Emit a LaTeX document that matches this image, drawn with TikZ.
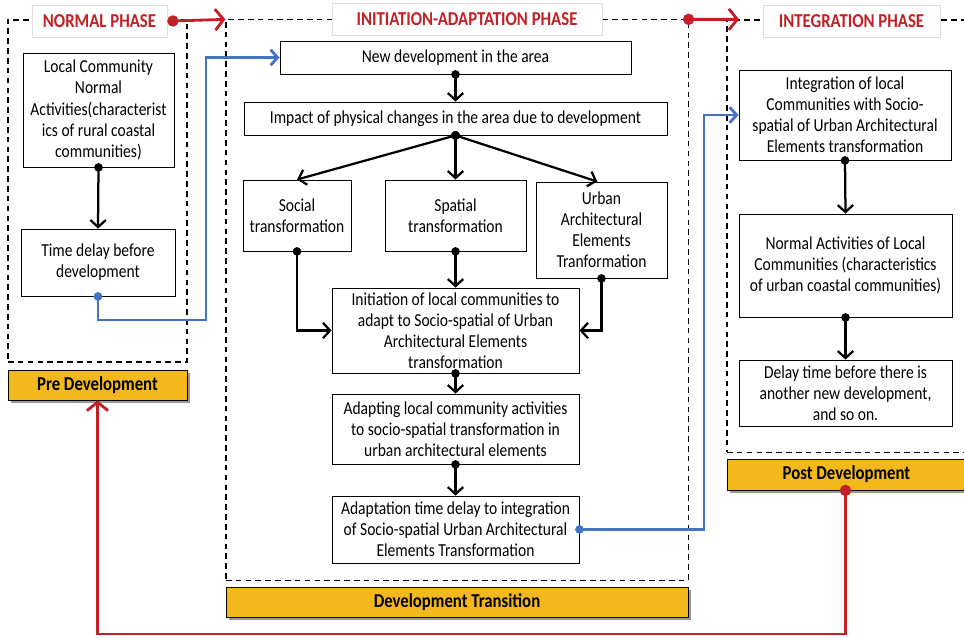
\documentclass[tikz,border=0pt]{standalone}
\usepackage{fontspec}
\setmainfont{Carlito}[FakeStretch=0.85]
\usetikzlibrary{arrows.meta,positioning,shadows}
\definecolor{phasered}{RGB}{192,32,38}
\definecolor{linkblue}{RGB}{68,114,196}
\definecolor{baryellow}{RGB}{242,184,28}
\tikzset{
  stagebox/.style={
    draw=black,
    fill=white,
    line width=0.6pt,
    align=center,
    inner sep=2pt,
    font=\fontsize{13}{15}\selectfont
  },
  phaseframe/.style={
    draw=black,
    line width=0.8pt,
    dash pattern=on 4pt off 3pt
  },
  phasehead/.style={
    draw=gray!25,
    fill=white,
    text=phasered,
    minimum height=0.8cm,
    font=\fontsize{14}{16}\selectfont\bfseries,
    drop shadow={shadow xshift=1pt, shadow yshift=-1pt, fill=gray!25, opacity=1}
  },
  periodbar/.style={
    draw=black,
    fill=baryellow,
    line width=0.6pt,
    font=\fontsize{14}{16}\selectfont\bfseries,
    drop shadow={shadow xshift=2pt, shadow yshift=-2pt, fill=gray!80, opacity=1}
  },
  flowarrow/.style={
    {Circle[length=6pt]}-{Straight Barb[length=5pt,width=11pt]},
    shorten <=-3pt,
    line width=1.6pt
  },
  linkarrow/.style={
    {Circle[length=6pt]}-{Straight Barb[length=5pt,width=11pt]},
    shorten <=-3pt,
    draw=linkblue,
    line width=2pt
  },
  phasearrow/.style={
    {Circle[length=8pt]}-{Straight Barb[length=6pt,width=15pt]},
    shorten <=-4pt,
    draw=phasered,
    line width=2pt
  }
}

\begin{document}
\begin{tikzpicture}[x=0.025cm, y=-0.025cm]
  \clip (0,0) rectangle (964,637);
  \fill[white] (0,0) rectangle (964,637);

  % phase frames
  \node[phaseframe, minimum width=4.475cm, minimum height=8.55cm] (leftframe) at (97.5,191) {};
  \node[phaseframe, minimum width=11.55cm, minimum height=14cm] (midframe) at (457,300) {};
  \node[phaseframe, minimum width=6.575cm, minimum height=10.8cm] (rightframe) at (858.5,236) {};

  \node[phasehead, minimum width=3.375cm] (normhead) at (99.5,21) {NORMAL PHASE};
  \node[phasehead, minimum width=6.75cm] (inithead) at (467,19) {INITIATION-ADAPTATION PHASE};
  \node[phasehead, minimum width=4.425cm] (integhead) at (851.5,21) {INTEGRATION PHASE};

  \node[periodbar, minimum width=4.475cm, minimum height=0.75cm] (prebar) at (97.5,385) {Pre Development};
  \node[periodbar, minimum width=11.55cm, minimum height=0.75cm] (transbar) at (457,602) {Development Transition};
  \node[periodbar, minimum width=6.575cm, minimum height=0.775cm] (postbar) at (858.5,474.5) {\hspace*{-0.6cm}Post Development};

  % normal phase
  \node[stagebox, minimum width=3.775cm, minimum height=2.85cm] (normact) at (98.5,110)
    {Local Community\\Normal\\Activities(characterist\\ics of rural coastal\\communities)};
  \node[stagebox, minimum width=3.85cm, minimum height=1.675cm] (timedelay) at (98,262.5)
    {Time delay before\\development};

  % initiation-adaptation phase
  \node[stagebox, minimum width=8.775cm, minimum height=0.825cm] (newdev) at (455.5,57.5)
    {New development in the area};
  \node[stagebox, minimum width=10.575cm, minimum height=0.825cm] (impact) at (455.5,118.5)
    {Impact of physical changes in the area due to development};
  \node[stagebox, minimum width=2.7cm, minimum height=1.775cm] (social) at (297,215.5)
    {Social\\transformation};
  \node[stagebox, minimum width=3.525cm, minimum height=1.775cm] (spatial) at (455.5,215.5)
    {Spatial\\transformation};
  \node[stagebox, minimum width=3.275cm, minimum height=2.4cm] (urban) at (601.5,230)
    {Urban\\Architectural\\Elements\\Tranformation};
  \node[stagebox, minimum width=6.175cm, minimum height=2.125cm] (initiation) at (455.5,330.5)
    {Initiation of local communities to\\adapt to Socio-spatial of Urban\\Architectural Elements\\transformation};
  \node[stagebox, minimum width=6.175cm, minimum height=1.75cm] (adapting) at (455.5,429)
    {Adapting local community activities\\to socio-spatial transformation in\\urban architectural elements};
  \node[stagebox, minimum width=6.175cm, minimum height=1.675cm] (adaptdelay) at (455.5,529.5)
    {Adaptation time delay to integration\\of Socio-spatial Urban Architectural\\Elements Transformation};

  % integration phase
  \node[stagebox, minimum width=5.3cm, minimum height=2.25cm] (integ) at (845,115)
    {Integration of local\\Communities with Socio-\\spatial of Urban Architectural\\Elements transformation};
  \node[stagebox, minimum width=5.325cm, minimum height=2.575cm] (urbanact) at (845.5,265.5)
    {Normal Activities of Local\\Communities (characteristics\\of urban coastal communities)};
  \node[stagebox, minimum width=5.325cm, minimum height=1.65cm] (delay) at (845.5,393)
    {Delay time before there is\\another new development,\\and so on.};

  \coordinate (bendL) at (206,320);
  \coordinate (bendR) at (704,300);
  \coordinate (loopturn) at (470,634);

  % flow
  \draw[flowarrow] (normact.south) -- (timedelay.north);
  \draw[flowarrow] (newdev.south) -- (impact.north);
  \draw[flowarrow] (impact.south) -- (social.north);
  \draw[flowarrow] (impact.south) -- (spatial.north);
  \draw[flowarrow] (impact.south) -- ([xshift=-3pt]urban.north);
  \draw[flowarrow] (social.south) |- (initiation.west);
  \draw[flowarrow] (spatial.south) -- (initiation.north);
  \draw[flowarrow] (urban.south) |- (initiation.east);
  \draw[flowarrow] (initiation.south) -- (adapting.north);
  \draw[flowarrow] (adapting.south) -- (adaptdelay.north);
  \draw[flowarrow] (integ.south) -- (urbanact.north);
  \draw[flowarrow] (urbanact.south) -- (delay.north);

  \draw[linkarrow] (timedelay.south) |- (bendL) |- (newdev.west);
  \draw[linkarrow] (adaptdelay.east) -| (bendR) |- (integ.west);

  \draw[phasearrow] ([xshift=4pt]normhead.east) -- (midframe.north west);
  \draw[phasearrow] (midframe.north east) -- ([xshift=9pt]rightframe.north west);
  \draw[phasearrow] (postbar.south -| delay.south) |- (loopturn) -| (prebar.south);
\end{tikzpicture}
\end{document}
